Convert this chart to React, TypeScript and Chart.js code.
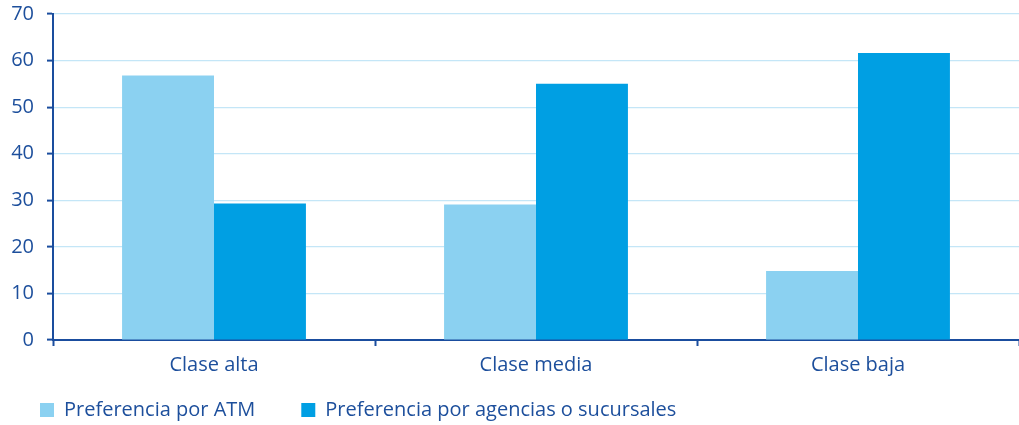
import React, { useEffect, useRef } from "react";
import { Chart, registerables } from "chart.js";

Chart.register(...registerables);

const categories = ["Clase alta", "Clase media", "Clase baja"];
const atmValues = [56.8, 29.1, 14.8];
const agenciasValues = [29.3, 55.0, 61.6];
const seriesNames = ["Preferencia por ATM", "Preferencia por agencias o sucursales"];
const yTicks = [0, 10, 20, 30, 40, 50, 60, 70];

const TEXT = "#1d4f9c";
const AXIS = "#1a4d9e";
const GRID = "#c4e6f7";
const LIGHT = "#8bd1f1";
const DARK = "#009fe3";
const FONT = "'Open Sans', sans-serif";

const legendShift = {
  id: "legendShift",
  afterLayout(chart: any) {
    const lg = chart.legend;
    if (!lg) return;
    const p = lg.options.labels.padding;
    const fs = lg.options.labels.font.size;
    const w = lg.width;
    lg.left = 40 - p;
    lg.right = lg.left + w;
    lg.top = 410 - fs / 2 - p;
    lg.bottom = 425;
    lg.height = lg.bottom - lg.top;
  },
};

export default function App() {
  const ref = useRef<HTMLCanvasElement | null>(null);
  useEffect(() => {
    if (!ref.current) return;
    const chart = new Chart(ref.current, {
      type: "bar",
      data: {
        labels: categories,
        datasets: [
          {
            label: seriesNames[0],
            data: atmValues,
            backgroundColor: LIGHT,
            borderWidth: 0,
            categoryPercentage: 0.571,
            barPercentage: 1,
          },
          {
            label: seriesNames[1],
            data: agenciasValues,
            backgroundColor: DARK,
            borderWidth: 0,
            categoryPercentage: 0.571,
            barPercentage: 1,
          },
        ],
      },
      options: {
        animation: false,
        responsive: true,
        maintainAspectRatio: false,
        layout: { padding: { top: 14, left: 0, right: 0, bottom: 0 } },
        scales: {
          x: {
            offset: true,
            grid: {
              display: true,
              offset: true,
              drawOnChartArea: false,
              drawTicks: true,
              tickLength: 6,
              tickColor: AXIS,
              tickWidth: 2,
            },
            border: { display: true, color: AXIS, width: 2 },
            ticks: { color: TEXT, font: { family: FONT, size: 20 }, padding: 7 },
          },
          y: {
            min: 0,
            max: 70,
            afterBuildTicks: (axis: any) => {
              axis.ticks = yTicks.map((v) => ({ value: v }));
            },
            afterFit: (axis: any) => {
              axis.paddingTop = 0;
              axis.paddingBottom = 0;
              axis.width = 53;
            },
            grid: {
              color: GRID,
              lineWidth: 1.2,
              tickLength: 6,
              tickColor: AXIS,
              tickWidth: 2,
            },
            border: { display: true, color: AXIS, width: 2 },
            ticks: { color: TEXT, font: { family: FONT, size: 20 }, padding: 13 },
          },
        },
        plugins: {
          legend: {
            position: "bottom",
            align: "start",
            maxHeight: 41,
            labels: {
              color: TEXT,
              font: { family: FONT, size: 20 },
              boxWidth: 14,
              boxHeight: 14,
              padding: 46,
            },
          },
          tooltip: { enabled: false },
        },
      },
      plugins: [legendShift],
    });
    return () => chart.destroy();
  }, []);
  return (
    <div style={{ position: "absolute", left: 0, top: 0, width: 1019, height: 425 }}>
      <canvas ref={ref} />
    </div>
  );
}
